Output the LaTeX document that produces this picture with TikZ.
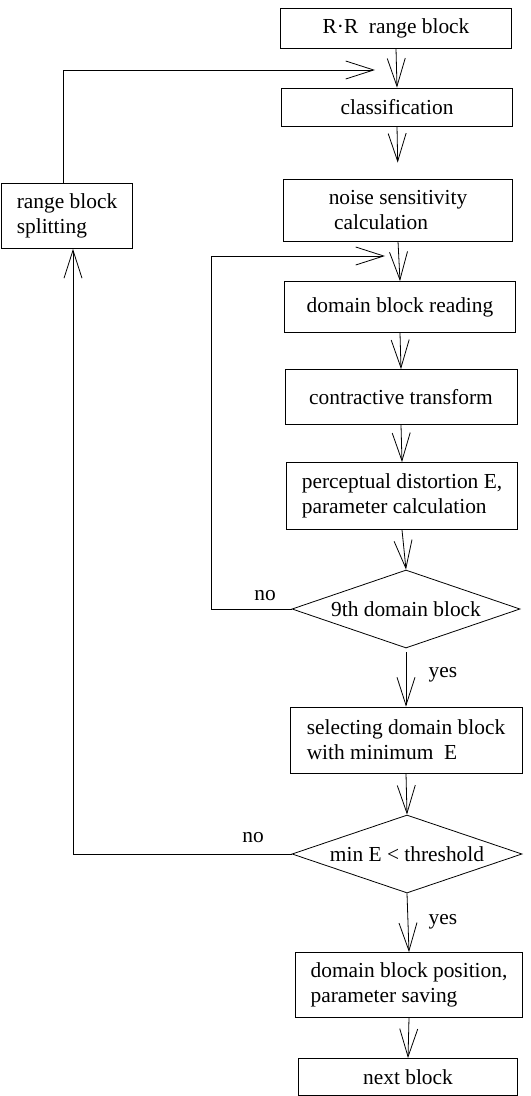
\documentclass[tikz,border=0pt]{standalone}
\usepackage{fontspec}
\setmainfont{Liberation Serif}
\usetikzlibrary{shapes.geometric,arrows.meta}
\begin{document}
\begin{tikzpicture}[x=0.5pt,y=-0.5pt,
  font=\fontsize{10.7}{12.5}\selectfont,
  box/.style={draw,line width=0.4pt,rectangle,inner sep=0pt},
  dia/.style={draw,diamond,line width=0.4pt,inner sep=0pt,aspect=2.9},
  arr/.style={line width=0.4pt,-{Straight Barb[length=14pt,width=9pt]}},
  lbl/.style={inner sep=0pt}]
\useasboundingbox (0,0) rectangle (530,1096);

\node[box,minimum width=115.5pt,minimum height=20pt] (rr) at (396,28) {R·R\ \ range block};
\node[box,minimum width=115.5pt,minimum height=19pt] (cls) at (397,107) {classification};
\node[box,minimum width=114.5pt,minimum height=31pt,align=left] (noise) at (398,210) {noise sensitivity\\\ calculation};
\node[box,minimum width=115.5pt,minimum height=25.5pt] (dbr) at (400,307) {domain block reading};
\node[box,minimum width=116pt,minimum height=27.5pt] (ct) at (401,397) {contractive transform};
\node[box,minimum width=115.5pt,minimum height=33.5pt,align=left] (pd) at (402,496) {perceptual distortion E,\\parameter calculation};
\node[dia,minimum width=114pt,minimum height=39pt] (d9) at (406,609) {9th domain block};
\node[box,minimum width=116pt,minimum height=33pt,align=left] (sel) at (406,740) {selecting domain block\\with minimum\ \ E};
\node[dia,minimum width=115pt,minimum height=39pt] (dmin) at (407,854) {min E < threshold};
\node[box,minimum width=113.5pt,minimum height=32.5pt,align=left] (pos) at (409,985) {domain block position,\\parameter saving};
\node[box,minimum width=109.5pt,minimum height=18.5pt] (next) at (408,1077) {next block};
\node[box,minimum width=65.5pt,minimum height=32.5pt,align=left] (split) at (67,216) {range block\\splitting};

\coordinate (c1) at (395,70);
\coordinate (c2) at (398,256);

\draw[arr] (rr.south) -- (cls.north);
\draw[arr,shorten >=8pt] (cls.south) -- (noise.north);
\draw[arr] (noise.south) -- (dbr.north);
\draw[arr] (dbr.south) -- (ct.north);
\draw[arr] (ct.south) -- (pd.north);
\draw[arr] (pd.south) -- (d9.north);
\draw[arr,shorten <=2pt] (d9.south) -- (sel.north);
\draw[arr] (sel.south) -- (dmin.north);
\draw[arr] (dmin.south) -- (pos.north);
\draw[arr] (pos.south) -- (next.north);

\draw[arr,shorten >=10pt] ([xshift=-2pt]split.north) |- (c1);
\draw[arr,shorten >=6.5pt] (d9.west) -| (211,256) -- (c2);
\draw[arr] (dmin.west) -| ([xshift=3pt]split.south);

\node[lbl] (no1) at (265,596) {no};
\node[lbl] (no2) at (253,838) {no};
\node[lbl] (yes1) at (443,675) {yes};
\node[lbl] (yes2) at (443,922) {yes};
\end{tikzpicture}
\end{document}
